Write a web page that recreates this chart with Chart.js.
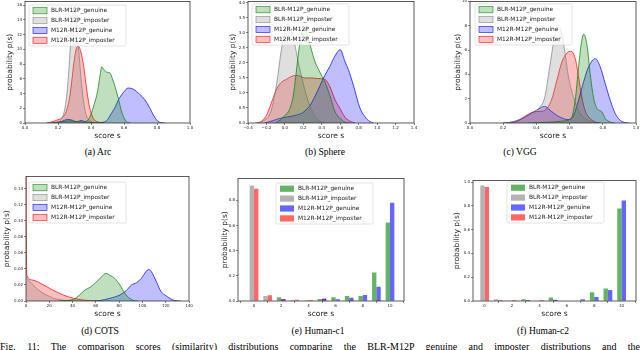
<!DOCTYPE html>
<html>
<head>
<meta charset="utf-8">
<script src="https://cdn.jsdelivr.net/npm/chart.js@4.4.0/dist/chart.umd.min.js"></script>
<style>
html, body { margin: 0; padding: 0; background: #fff; width: 640px; height: 350px; overflow: hidden; position: relative; }
canvas { position: absolute; }
.cap { position: absolute; font-family: 'Liberation Serif', serif; font-size: 9.5px; line-height: 11px; color: #000; white-space: nowrap; transform: translateX(-50%); }
.fig { position: absolute; left: 0; top: 341px; width: 640px; font-family: 'Liberation Serif', serif; font-size: 10px; line-height: 11px; text-align: justify; text-align-last: justify; white-space: nowrap; }
</style>
</head>
<body>
<div class="cap" style="left:98px;top:147px">(a) Arc</div>
<div class="cap" style="left:325px;top:147px">(b) Sphere</div>
<div class="cap" style="left:520px;top:147px">(c) VGG</div>
<div class="cap" style="left:100px;top:326px">(d) COTS</div>
<div class="cap" style="left:318px;top:326px">(e) Human-c1</div>
<div class="cap" style="left:543px;top:326px">(f) Human-c2</div>
<div class="fig">Fig. 11: The comparison scores (similarity) distributions comparing the BLR-M12P genuine and imposter distributions and the</div>
<script>
const seriesNames = ['BLR-M12P_genuine', 'BLR-M12P_imposter', 'M12R-M12P_genuine', 'M12R-M12P_imposter'];
const seriesRGB = ['0,128,0', '128,128,128', '0,0,255', '255,0,0'];

// (a) Arc  [score, density]
const arcBlrGenuine = [[0.16,0],[0.22,0.15],[0.27,0.3],[0.31,0.2],[0.35,0.15],[0.38,0.35],[0.40,1.2],[0.42,2.6],[0.44,4.3],[0.455,6.5],[0.465,7.6],[0.48,7.2],[0.495,6.9],[0.515,6.8],[0.53,6.0],[0.545,5.0],[0.565,3.4],[0.585,1.6],[0.60,0.7],[0.615,0.2],[0.64,0]];
const arcBlrImposter = [[0.14,0],[0.19,0.1],[0.22,0.5],[0.24,1.8],[0.255,4.2],[0.27,8.5],[0.28,12.5],[0.29,15.0],[0.30,15.7],[0.31,14.3],[0.32,11.5],[0.335,7.2],[0.35,3.8],[0.365,1.6],[0.38,0.6],[0.40,0.2],[0.43,0.05],[0.46,0]];
const arcM12Genuine = [[0.17,0],[0.22,0.2],[0.26,0.5],[0.29,0.35],[0.31,0.15],[0.34,0.35],[0.37,0.15],[0.40,0.08],[0.44,0.05],[0.48,0.12],[0.50,0.45],[0.515,1.0],[0.545,2.1],[0.565,3.1],[0.595,4.1],[0.625,4.75],[0.655,4.6],[0.695,3.9],[0.725,3.2],[0.755,2.1],[0.785,0.8],[0.805,0.25],[0.83,0.03],[0.85,0]];
const arcM12Imposter = [[0.13,0],[0.17,0.2],[0.2,0.45],[0.23,0.8],[0.25,1.6],[0.27,3.4],[0.285,6.0],[0.30,8.8],[0.315,10.3],[0.325,10.4],[0.34,9.5],[0.355,7.8],[0.37,5.2],[0.385,2.9],[0.40,1.4],[0.42,0.45],[0.45,0.1],[0.48,0]];
const arcXTicks = [0, 0.2, 0.4, 0.6, 0.8, 1.0];
const arcYTicks = [0, 2, 4, 6, 8, 10, 12, 14, 16];

// (b) Sphere
const sphBlrGenuine = [[-0.1,0],[-0.05,0.1],[0.0,0.25],[0.05,0.45],[0.09,0.9],[0.12,1.6],[0.15,2.4],[0.18,2.95],[0.21,3.15],[0.25,2.85],[0.32,2.1],[0.4,1.57],[0.43,1.4],[0.49,0.9],[0.54,0.4],[0.6,0.15],[0.65,0.03],[0.7,0]];
const sphBlrImposter = [[-0.3,0],[-0.25,0.05],[-0.22,0.1],[-0.15,0.4],[-0.09,1.3],[-0.04,2.4],[0.0,3.0],[0.03,3.3],[0.06,3.2],[0.09,2.9],[0.14,2.1],[0.2,1.3],[0.25,0.75],[0.32,0.25],[0.4,0.03],[0.45,0]];
const sphM12Genuine = [[-0.22,0],[-0.18,0.03],[-0.07,0.14],[0.02,0.2],[0.11,0.25],[0.2,0.36],[0.27,0.58],[0.32,0.85],[0.38,1.24],[0.43,1.57],[0.49,1.9],[0.54,2.22],[0.6,2.44],[0.65,2.06],[0.7,1.68],[0.76,1.07],[0.81,0.53],[0.87,0.2],[0.92,0.05],[0.96,0]];
const sphM12Imposter = [[-0.32,0],[-0.27,0.03],[-0.2,0.25],[-0.15,0.64],[-0.09,1.13],[-0.04,1.35],[0.02,1.46],[0.09,1.57],[0.14,1.58],[0.22,1.5],[0.29,1.5],[0.36,1.48],[0.43,1.46],[0.49,1.2],[0.54,0.8],[0.6,0.47],[0.65,0.2],[0.7,0.07],[0.76,0]];
const sphXTicks = [-0.4, -0.2, 0, 0.2, 0.4, 0.6, 0.8, 1.0, 1.2, 1.4];
const sphYTicks = [0, 0.5, 1.0, 1.5, 2.0, 2.5, 3.0, 3.5, 4.0];

// (c) VGG
const vggBlrGenuine = [[0.35,0],[0.45,0.05],[0.55,0.15],[0.6,0.3],[0.614,0.5],[0.634,1.9],[0.654,4.6],[0.67,6.5],[0.684,7.3],[0.704,6.5],[0.724,4.05],[0.744,2.1],[0.765,1.2],[0.795,0.9],[0.815,0.36],[0.845,0.08],[0.87,0]];
const vggBlrImposter = [[0.2,0],[0.25,0.08],[0.31,0.36],[0.37,0.77],[0.42,1.3],[0.45,2.1],[0.48,4.6],[0.51,7.1],[0.533,8.0],[0.553,7.3],[0.573,5.7],[0.593,3.8],[0.624,2.1],[0.654,1.0],[0.694,0.36],[0.734,0.08],[0.77,0]];
const vggM12Genuine = [[0.2,0],[0.23,0.03],[0.29,0.2],[0.35,0.63],[0.40,1.04],[0.449,1.37],[0.483,1.04],[0.523,0.63],[0.563,0.36],[0.594,0.27],[0.624,0.63],[0.654,1.86],[0.684,3.37],[0.714,4.6],[0.755,5.29],[0.785,4.6],[0.815,3.23],[0.845,1.86],[0.875,0.77],[0.905,0.22],[0.936,0.03],[0.96,0]];
const vggM12Imposter = [[0.22,0],[0.27,0.08],[0.33,0.55],[0.38,0.9],[0.42,0.95],[0.45,1.04],[0.49,1.86],[0.523,3.5],[0.553,5.0],[0.583,5.75],[0.608,5.9],[0.634,5.3],[0.654,3.8],[0.674,2.1],[0.694,1.0],[0.724,0.36],[0.755,0.08],[0.785,0]];
const vggXTicks = [0, 0.2, 0.4, 0.6, 0.8, 1.0];
const vggYTicks = [0, 2, 4, 6, 8, 10];

// (d) COTS
const cotsBlrGenuine = [[28,0],[32,0.0004],[40.6,0.002],[46,0.0075],[50.6,0.0137],[53.4,0.0157],[57.7,0.02],[62,0.026],[64.9,0.03],[68.6,0.0344],[72,0.032],[76.3,0.028],[80.6,0.02],[84.9,0.0095],[89,0.0033],[93,0.0004],[96,0]];
const cotsBlrImposter = [[0,0.03],[2,0.026],[4.9,0.022],[9,0.0157],[15,0.0095],[20.6,0.0054],[26,0.0025],[35,0.0008],[43,0]];
const cotsM12Genuine = [[58,0],[63,0.0004],[72,0.0033],[80.6,0.0075],[86,0.0128],[90.6,0.02],[95,0.0228],[99,0.028],[103,0.0365],[105.4,0.0394],[107.7,0.0365],[112,0.024],[116,0.0116],[120.6,0.0062],[125,0.002],[129,0.0004],[133,0]];
const cotsM12Imposter = [[0,0.2],[0.4,0.05],[1,0.031],[6,0.026],[15,0.02],[23,0.0137],[32,0.0075],[41,0.0033],[49,0.0012],[58,0.0003],[65,0]];
const cotsXTicks = [0, 20, 40, 60, 80, 100, 120, 140];
const cotsYTicks = [0, 0.02, 0.04, 0.06, 0.08, 0.10, 0.12, 0.14];

// (e) Human-c1 and (f) Human-c2, probability per score
const scores = [0, 1, 2, 3, 4, 5, 6, 7, 8, 9, 10];
const c1BlrGenuine = [0, 0, 0.03, 0, 0, 0.016, 0.03, 0.04, 0.04, 0.227, 0.623];
const c1BlrImposter = [0.918, 0.04, 0, 0.008, 0.005, 0, 0, 0, 0, 0, 0];
const c1M12Genuine = [0, 0, 0.013, 0, 0, 0.018, 0.013, 0.026, 0.048, 0.113, 0.78];
const c1M12Imposter = [0.892, 0.045, 0.016, 0.01, 0.008, 0.018, 0, 0.008, 0, 0.008, 0];
const c2BlrGenuine = [0, 0, 0, 0.014, 0, 0.03, 0, 0, 0.073, 0.106, 0.777];
const c2BlrImposter = [0.972, 0.014, 0.005, 0, 0, 0, 0, 0, 0, 0, 0];
const c2M12Genuine = [0, 0, 0, 0.008, 0, 0.011, 0, 0.014, 0.034, 0.092, 0.846];
const c2M12Imposter = [0.958, 0.008, 0.008, 0.005, 0.008, 0.008, 0, 0, 0, 0, 0];
const humanXTicks = [0, 2, 4, 6, 8, 10];
const c1YTicks = [0, 0.2, 0.4, 0.6, 0.8];
const c2YTicks = [0, 0.2, 0.4, 0.6, 0.8, 1.0];

const FONT = "'DejaVu Sans', sans-serif";

// axes frame + matplotlib-like legend box
const mplPlugin = {
  id: 'mpl',
  afterDraw(chart, args, o) {
    const { ctx, chartArea: a } = chart;
    ctx.save();
    ctx.strokeStyle = '#333';
    ctx.lineWidth = 0.8;
    ctx.strokeRect(a.left, a.top, a.right - a.left, a.bottom - a.top);

    const x = o.x, y = o.y, w = 97, h = 41;
    ctx.beginPath();
    ctx.roundRect(x, y, w, h, 1.5);
    ctx.fillStyle = 'rgba(255,255,255,0.8)';
    ctx.fill();
    ctx.strokeStyle = '#d0d0d0';
    ctx.lineWidth = 0.6;
    ctx.stroke();
    ctx.font = '5.9px ' + FONT;
    ctx.textBaseline = 'middle';
    chart.data.datasets.forEach((d, i) => {
      const ry = y + 5.6 + i * 9.9;
      ctx.fillStyle = d.backgroundColor;
      ctx.fillRect(x + 4, ry - 3, 14, 6.2);
      if (!o.bars) {
        ctx.strokeStyle = d.borderColor;
        ctx.lineWidth = 0.7;
        ctx.strokeRect(x + 4, ry - 3, 14, 6.2);
      }
      ctx.fillStyle = '#222';
      ctx.fillText(d.label, x + 22, ry);
    });
    ctx.restore();
  }
};

function fmt(v, dec) {
  return v.toFixed(dec).replace('-', '\u2212');
}

function makeChart(p) {
  const padTop = 3, padRight = 6, Hx = 18;
  const cl = p.ytx - 6;
  const Wy = p.L - cl;
  const ct = p.T - padTop;
  const cw = (p.R - p.L) + Wy + padRight;
  const ch = (p.B - p.T) + padTop + Hx;
  const cv = document.createElement('canvas');
  cv.width = cw; cv.height = ch;
  cv.style.left = cl + 'px'; cv.style.top = ct + 'px';
  cv.style.width = cw + 'px'; cv.style.height = ch + 'px';
  document.body.appendChild(cv);

  let datasets;
  if (p.bars) {
    datasets = p.series.map((vals, i) => ({
      label: seriesNames[i],
      data: scores.map((s, k) => ({ x: s, y: vals[k] })),
      backgroundColor: `rgba(${seriesRGB[i]},0.6)`,
      borderWidth: 0,
      stack: i < 2 ? 'blr' : 'm12r',
      categoryPercentage: 0.64,
      barPercentage: 1.0
    }));
  } else {
    datasets = p.series.map((pts, i) => ({
      label: seriesNames[i],
      data: pts.map(([x, y]) => ({ x, y })),
      borderColor: `rgba(${seriesRGB[i]},0.8)`,
      backgroundColor: `rgba(${seriesRGB[i]},0.25)`,
      borderWidth: 0.9,
      fill: 'origin',
      pointRadius: 0,
      cubicInterpolationMode: 'monotone'
    }));
  }

  const tickFont = { family: FONT, size: 4 };
  const titleFont = { family: FONT, size: 7.5 };
  new Chart(cv.getContext('2d'), {
    type: p.bars ? 'bar' : 'line',
    data: { datasets },
    options: {
      responsive: false,
      animation: false,
      events: [],
      layout: { padding: { top: padTop, right: padRight, left: 0, bottom: 0 } },
      plugins: {
        legend: { display: false },
        tooltip: { enabled: false },
        mpl: { x: p.lx - cl, y: p.ly - ct, bars: !!p.bars }
      },
      scales: {
        x: {
          type: 'linear',
          min: p.xMin, max: p.xMax,
          offset: false,
          afterFit: s => { s.height = Hx; },
          afterBuildTicks: s => { s.ticks = p.xTicks.map(v => ({ value: v })); },
          ticks: { font: tickFont, color: '#222', padding: 1, maxRotation: 0, autoSkip: false,
                   callback: v => fmt(v, p.xDec) },
          grid: { drawOnChartArea: false, tickLength: 2, color: '#333', lineWidth: 0.6 },
          border: { display: false },
          title: { display: true, text: 'score s', font: titleFont, color: '#222', padding: { top: 0, bottom: 0.5 } }
        },
        y: {
          type: 'linear',
          min: p.yMin, max: p.yMax,
          stacked: false,
          afterFit: s => { s.width = Wy; },
          afterBuildTicks: s => { s.ticks = p.yTicks.map(v => ({ value: v })); },
          ticks: { font: tickFont, color: '#222', padding: 1, autoSkip: false,
                   callback: v => fmt(v, p.yDec) },
          grid: { drawOnChartArea: false, tickLength: 2, color: '#333', lineWidth: 0.6 },
          border: { display: false },
          title: { display: true, text: 'probability p(s)', font: titleFont, color: '#222', padding: { top: 1.5, bottom: 0 } }
        }
      }
    },
    plugins: [mplPlugin]
  });
}

const panels = [
  { L: 25, R: 190, T: 1, B: 123, ytx: 10, xMin: 0, xMax: 1, yMin: 0, yMax: 16.5,
    xTicks: arcXTicks, yTicks: arcYTicks, xDec: 1, yDec: 0, lx: 29, ly: 5,
    series: [arcBlrGenuine, arcBlrImposter, arcM12Genuine, arcM12Imposter] },
  { L: 248, R: 414, T: 1, B: 123, ytx: 233, xMin: -0.4, xMax: 1.4, yMin: 0, yMax: 4.05,
    xTicks: sphXTicks, yTicks: sphYTicks, xDec: 1, yDec: 1, lx: 252, ly: 4,
    series: [sphBlrGenuine, sphBlrImposter, sphM12Genuine, sphM12Imposter] },
  { L: 470, R: 636, T: 1, B: 123, ytx: 458, xMin: 0, xMax: 1, yMin: 0, yMax: 10,
    xTicks: vggXTicks, yTicks: vggYTicks, xDec: 1, yDec: 0, lx: 475, ly: 4,
    series: [vggBlrGenuine, vggBlrImposter, vggM12Genuine, vggM12Imposter] },
  { L: 26, R: 189, T: 176, B: 301, ytx: 7, xMin: 0, xMax: 140, yMin: 0, yMax: 0.155,
    xTicks: cotsXTicks, yTicks: cotsYTicks, xDec: 0, yDec: 2, lx: 29, ly: 182,
    series: [cotsBlrGenuine, cotsBlrImposter, cotsM12Genuine, cotsM12Imposter] },
  { bars: true, L: 238, R: 404, T: 178, B: 301, ytx: 225, xMin: -1.18, xMax: 11.03, yMin: 0, yMax: 0.974,
    xTicks: humanXTicks, yTicks: c1YTicks, xDec: 0, yDec: 1, lx: 276, ly: 183,
    series: [c1BlrGenuine, c1BlrImposter, c1M12Genuine, c1M12Imposter] },
  { bars: true, L: 473, R: 636, T: 180, B: 301, ytx: 457, xMin: -0.85, xMax: 11.05, yMin: 0, yMax: 1.014,
    xTicks: humanXTicks, yTicks: c2YTicks, xDec: 0, yDec: 1, lx: 507, ly: 182,
    series: [c2BlrGenuine, c2BlrImposter, c2M12Genuine, c2M12Imposter] }
];

panels.forEach(makeChart);
</script>
</body>
</html>
